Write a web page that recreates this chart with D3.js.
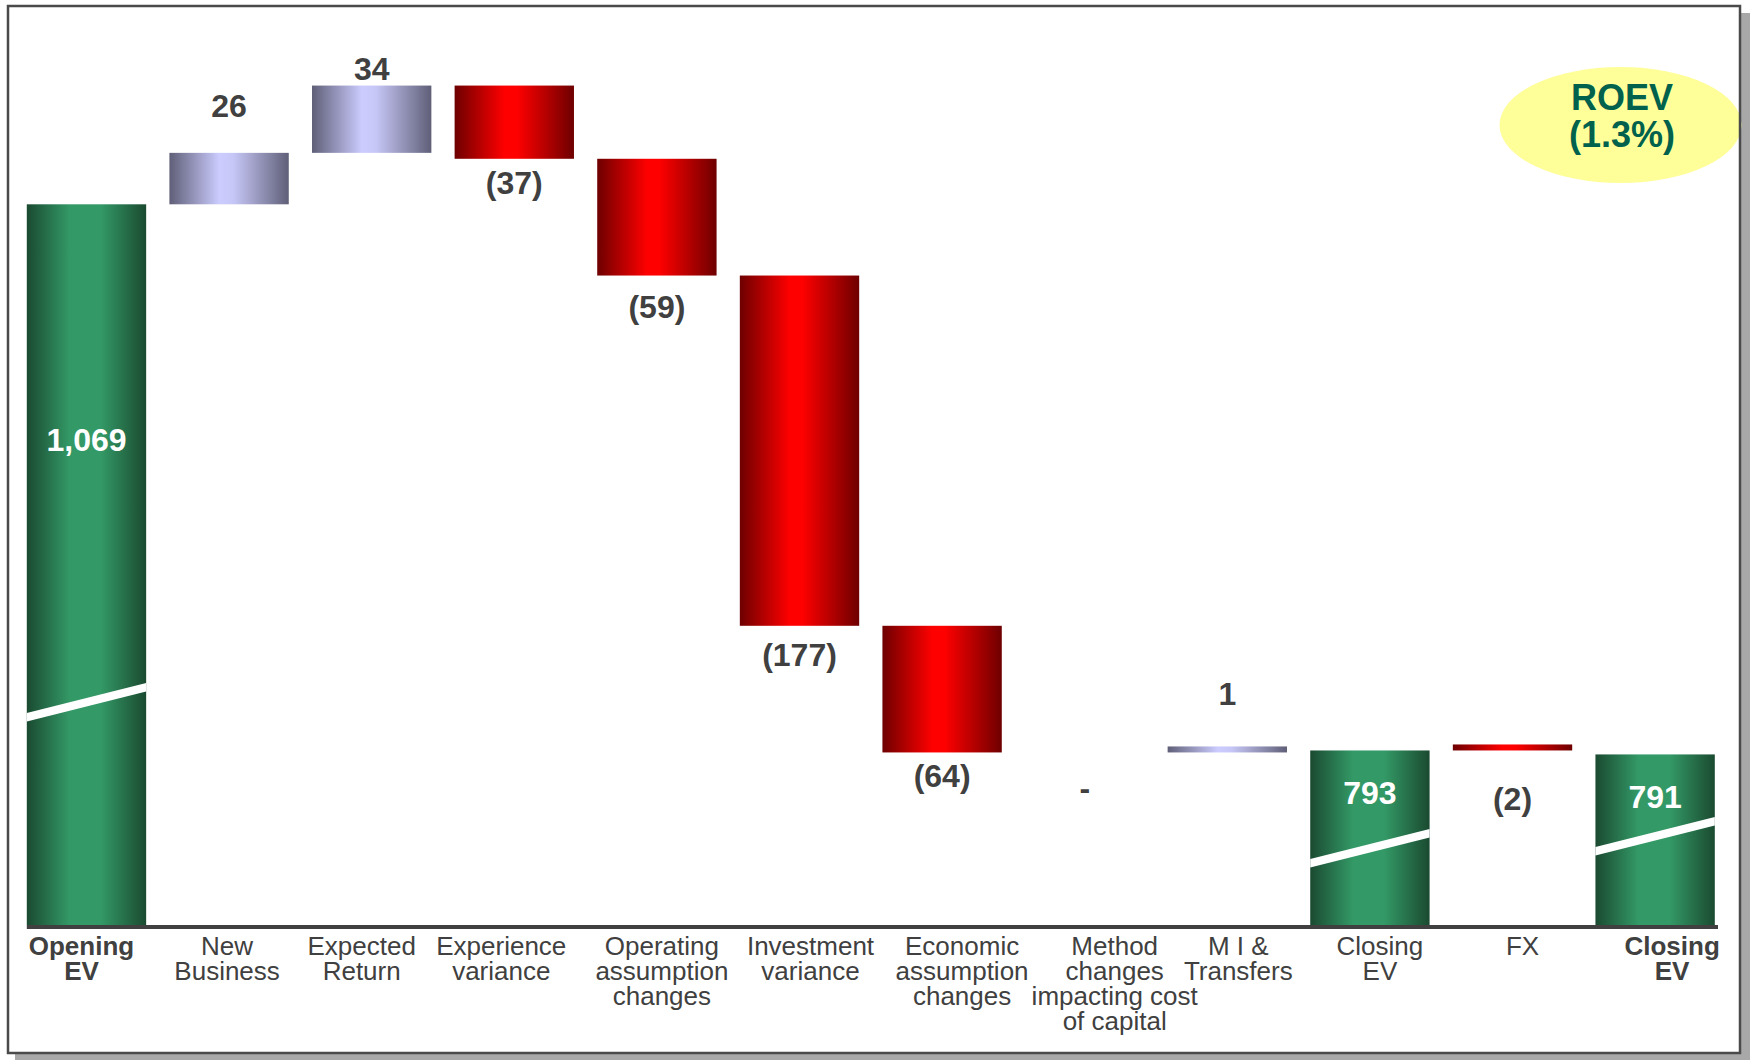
<!DOCTYPE html>
<html><head><meta charset="utf-8">
<script src="https://cdn.jsdelivr.net/npm/d3@7"></script>
<style>
html,body{margin:0;padding:0;background:#fff;}
svg{display:block;font-family:"Liberation Sans",Arial,Helvetica,sans-serif;}
</style></head><body>
<svg id="chart" width="1750" height="1060"></svg>
<script>
// ---------- DATA ----------
const categories = [
  ["Opening","EV"],
  ["New","Business"],
  ["Expected","Return"],
  ["Experience","variance"],
  ["Operating","assumption","changes"],
  ["Investment","variance"],
  ["Economic","assumption","changes"],
  ["Method","changes","impacting cost","of capital"],
  ["M I &","Transfers"],
  ["Closing","EV"],
  ["FX"],
  ["Closing","EV"]
];
const kinds = ["total","delta","delta","delta","delta","delta","delta","delta","delta","total","delta","total"];
const values = [1069, 26, 34, -37, -59, -177, -64, 0, 1, 793, -2, 791];
const valueLabels = ["1,069","26","34","(37)","(59)","(177)","(64)","-","1","793","(2)","791"];
const boldCategory = [true,false,false,false,false,false,false,false,false,false,false,true];
const roevLines = ["ROEV","(1.3%)"];

// ---------- LAYOUT ----------
const W = 1750, H = 1060;
const baseY = 925;
const svg = d3.select("#chart");

const x = d3.scaleBand().domain(d3.range(categories.length))
  .range([26.8, 1714.8]).paddingInner(0.163).paddingOuter(0);
const y = d3.scaleLinear().domain([704.8, 1069]).range([baseY, 204.3]);

// label offsets (px): from bar top (totals / positive deltas) or bar bottom (negative deltas)
const labelOffset = [247, -36, -6, 35, 42.5, 40, 35, 47, -41, 54, 60, 54];
const catDx = [-5, -2, -10, -13, 5, 11, 20, 30, 11, 10, 10, 17];
const breakOffset = {0: 212, 9: 66, 11: 78};
const MIN_H = 6;

// waterfall geometry
let running = 0;
const bars = values.map((v, i) => {
  let lo, hi, top, bot;
  if (kinds[i] === "total") {
    lo = y.domain()[0]; hi = v; running = v;
    top = y(hi); bot = y(lo);
  } else {
    const s = running; running = s + v;
    lo = Math.min(s, running); hi = Math.max(s, running);
    top = y(hi); bot = y(lo);
    if (v !== 0 && bot - top < MIN_H) { bot = y(s); top = bot - MIN_H; }
  }
  return {i, v, kind: kinds[i], top, bot};
});

// ---------- DEFS ----------
const defs = svg.append("defs");
function grad(id, stops) {
  const g = defs.append("linearGradient").attr("id", id)
    .attr("x1", "0").attr("x2", "1").attr("y1", "0").attr("y2", "0");
  stops.forEach(s => g.append("stop").attr("offset", s[0]).attr("stop-color", s[1]));
}
grad("gGreen", [[0,"#1a4a31"],[0.36,"#339966"],[0.62,"#339966"],[1,"#1a4a30"]]);
grad("gRed", [[0,"#6e0000"],[0.42,"#ff0000"],[0.52,"#ff0000"],[1,"#6e0000"]]);
grad("gBlue", [[0,"#5f5f78"],[0.42,"#ccccff"],[0.54,"#c6c6f6"],[1,"#5f5f78"]]);

// ---------- FRAME ----------
svg.append("rect").attr("x", 15).attr("y", 13).attr("width", W - 15).attr("height", H - 13).attr("fill", "#a8a8a8");
svg.append("rect").attr("x", 8).attr("y", 6).attr("width", 1732).attr("height", 1047).attr("fill", "#fff");

// ---------- ROEV ELLIPSE ----------
svg.append("ellipse").attr("cx", 1620.5).attr("cy", 125).attr("rx", 121).attr("ry", 58).attr("fill", "#ffff99");
svg.append("g").selectAll("text").data(roevLines).join("text")
  .attr("x", 1622)
  .attr("y", (d, i) => 110 + i * 37)
  .attr("text-anchor", "middle")
  .attr("font-size", 36).attr("font-weight", "bold").attr("fill", "#00614c")
  .text(d => d);

// ---------- BARS ----------
const fillFor = b => b.kind === "total" ? "url(#gGreen)" : (b.v >= 0 ? "url(#gBlue)" : "url(#gRed)");
svg.append("g").selectAll("rect").data(bars.filter(b => b.bot - b.top > 0)).join("rect")
  .attr("x", b => x(b.i)).attr("width", x.bandwidth())
  .attr("y", b => b.top).attr("height", b => b.bot - b.top)
  .attr("fill", fillFor);

// break stripes on total bars
svg.append("g").selectAll("polygon").data(bars.filter(b => breakOffset[b.i] !== undefined)).join("polygon")
  .attr("fill", "#fff")
  .attr("points", b => {
    const x0 = x(b.i), x1 = x(b.i) + x.bandwidth();
    const yl = baseY - breakOffset[b.i], rise = 30, t = 8.5;
    return [[x0, yl], [x1, yl - rise], [x1, yl - rise + t], [x0, yl + t]].map(p => p.join(",")).join(" ");
  });

// baseline
svg.append("line").attr("x1", 26.8).attr("x2", 1718).attr("y1", baseY + 2).attr("y2", baseY + 2)
  .attr("stroke", "#404040").attr("stroke-width", 4);

// ---------- VALUE LABELS ----------
svg.append("g").selectAll("text").data(bars).join("text")
  .attr("x", b => x(b.i) + x.bandwidth() / 2)
  .attr("y", b => (b.kind === "total" || b.v > 0) ? b.top + labelOffset[b.i] : b.bot + labelOffset[b.i])
  .attr("text-anchor", "middle")
  .attr("font-size", 32).attr("font-weight", "bold")
  .attr("fill", b => b.kind === "total" ? "#ffffff" : "#404040")
  .text(b => valueLabels[b.i]);

// ---------- CATEGORY LABELS ----------
const cat = svg.append("g").selectAll("text").data(categories).join("text")
  .attr("text-anchor", "middle")
  .attr("font-size", 26)
  .attr("font-weight", (d, i) => boldCategory[i] ? "bold" : "normal")
  .attr("fill", "#404040");
cat.each(function(lines, i) {
  const cx = x(i) + x.bandwidth() / 2 + catDx[i];
  d3.select(this).selectAll("tspan").data(lines).join("tspan")
    .attr("x", cx).attr("y", (d, j) => 955 + j * 25).text(d => d);
});

// frame border on top
svg.append("rect").attr("x", 8).attr("y", 6).attr("width", 1732).attr("height", 1047)
  .attr("fill", "none").attr("stroke", "#4a4a4a").attr("stroke-width", 2.5);
</script>
</body></html>
